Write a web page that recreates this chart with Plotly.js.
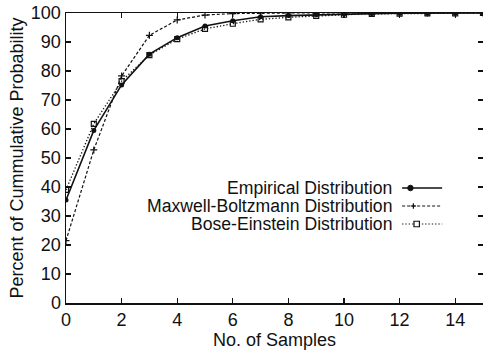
<!DOCTYPE html>
<html>
<head>
<meta charset="utf-8">
<script src="https://cdn.plot.ly/plotly-3.0.1.min.js"></script>
<style>html,body{margin:0;padding:0;background:#fff;}#chart{width:483px;height:353px;}</style>
</head>
<body>
<div id="chart"></div>
<script>
const samples = [0,1,2,3,4,5,6,7,8,9,10,11,12,13,14,15];
const empirical = [35.5,59.5,75.2,85.8,91.5,95.5,97.3,98.7,99.1,99.4,99.7,99.8,99.9,99.9,100,100];
const maxwell = [21.5,52.8,78.3,92.3,97.6,99.3,99.8,100,100,100,100,100,100,100,100,100];
const bose = [39,61.8,76.5,85.5,91,94.5,96.3,97.8,98.5,99,99.4,99.7,99.8,99.9,99.9,100];
const seriesNames = ['Empirical Distribution','Maxwell-Boltzmann Distribution','Bose-Einstein Distribution'];
const xTicks = [0,2,4,6,8,10,12,14];
const yTicks = [0,10,20,30,40,50,60,70,80,90,100];

const font = 'Liberation Sans, Arial, Helvetica, sans-serif';
const traces = [
  {x: samples, y: empirical, mode: 'lines+markers', name: seriesNames[0],
   line: {color: '#111', width: 1.6, dash: 'solid'},
   marker: {symbol: 'circle', size: 5, color: '#111'}},
  {x: samples, y: maxwell, mode: 'lines+markers', name: seriesNames[1],
   line: {color: '#111', width: 1.2, dash: '3px,2px'},
   marker: {symbol: 'cross-thin', size: 5, color: '#111', line: {color: '#111', width: 1.2}}},
  {x: samples, y: bose, mode: 'lines+markers', name: seriesNames[2],
   line: {color: '#111', width: 1.3, dash: '1.3px,2px'},
   marker: {symbol: 'square-open', size: 5, color: '#111', line: {color: '#111', width: 1.2}}}
];

// legend (text left of sample, gnuplot style)
const legRows = [0.3966, 0.3345, 0.2724];
const annotations = seriesNames.map((n, i) => ({
  xref: 'paper', yref: 'paper', x: 0.786, y: legRows[i], xanchor: 'right', yanchor: 'middle',
  text: n, showarrow: false, font: {family: font, size: 17.6, color: '#111'}
}));
const dashes = ['solid', '3px,2px', '1.3px,2px'];
const shapes = [];
legRows.forEach((yy, i) => {
  shapes.push({type: 'line', xref: 'paper', yref: 'paper', x0: 0.806, x1: 0.902, y0: yy, y1: yy,
    line: {color: '#111', width: i === 0 ? 1.6 : 1.2, dash: dashes[i]}});
});
// legend markers
const mx = [0.826, 0.833, 0.841];
const dx = 0.0065, dy = 0.0095;
shapes.push({type: 'circle', xref: 'paper', yref: 'paper', x0: mx[0]-dx, x1: mx[0]+dx, y0: legRows[0]-dy, y1: legRows[0]+dy,
  fillcolor: '#111', line: {color: '#111', width: 1}});
shapes.push({type: 'line', xref: 'paper', yref: 'paper', x0: mx[1]-dx, x1: mx[1]+dx, y0: legRows[1], y1: legRows[1], line: {color: '#111', width: 1.2}});
shapes.push({type: 'line', xref: 'paper', yref: 'paper', x0: mx[1], x1: mx[1], y0: legRows[1]-dy, y1: legRows[1]+dy, line: {color: '#111', width: 1.2}});
shapes.push({type: 'rect', xref: 'paper', yref: 'paper', x0: mx[2]-dx, x1: mx[2]+dx, y0: legRows[2]-dy, y1: legRows[2]+dy,
  fillcolor: '#fff', line: {color: '#111', width: 1.2}});

const axisCommon = {
  showline: true, linecolor: '#111', linewidth: 1.5, mirror: 'ticks',
  ticks: 'inside', ticklen: 5, tickcolor: '#111', tickwidth: 1.2,
  showgrid: false, zeroline: false,
  tickfont: {family: font, size: 18, color: '#111'}
};
const layout = {
  width: 483, height: 353,
  margin: {l: 66, r: 0, t: 13, b: 50},
  paper_bgcolor: '#fff', plot_bgcolor: '#fff',
  showlegend: false,
  xaxis: Object.assign({}, axisCommon, {
    range: [0, 15], tickvals: xTicks, ticktext: xTicks.map(String),
    title: {text: 'No. of Samples', font: {family: font, size: 18, color: '#111'}, standoff: 0}
  }),
  yaxis: Object.assign({}, axisCommon, {
    range: [0, 100], tickvals: yTicks, ticktext: yTicks.map(String),
    title: {text: 'Percent of Cummulative Probability', font: {family: font, size: 18, color: '#111'}, standoff: 2}
  }),
  annotations: annotations,
  shapes: shapes
};
Plotly.newPlot('chart', traces, layout, {displayModeBar: false, staticPlot: true});
</script>
</body>
</html>
